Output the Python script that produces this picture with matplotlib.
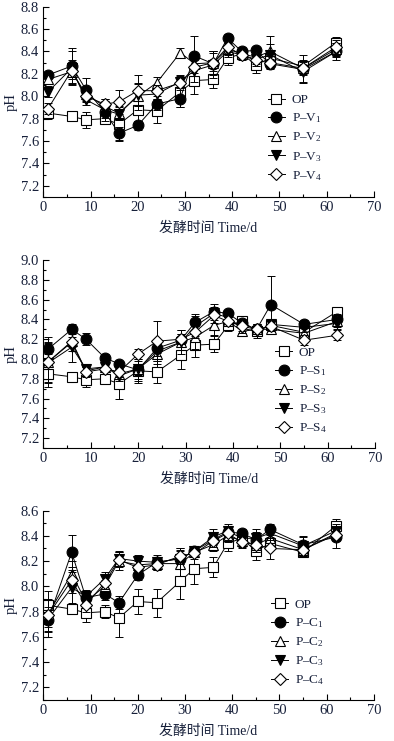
import numpy as np
import matplotlib
matplotlib.use("Agg")
import matplotlib.pyplot as plt
from matplotlib.ticker import MultipleLocator

plt.rcParams['font.family'] = ['Liberation Serif', 'Noto Sans CJK SC']
plt.rcParams['mathtext.fontset'] = 'custom'
plt.rcParams['mathtext.rm'] = 'Liberation Serif'
plt.rcParams['mathtext.it'] = 'Liberation Serif:italic'

days = [1, 6, 9, 13, 16, 20, 24, 29, 32, 36, 39, 42, 45, 48, 55, 62]

op = [7.85, 7.82, 7.79, 7.80, 7.75, 7.88, 7.87, 8.04, 8.14, 8.15, 8.34, 8.38, 8.28, 8.34, 8.27, 8.48]
op_err = [0.05, 0.03, 0.07, 0.05, 0.15, 0.10, 0.11, 0.14, 0.12, 0.08, 0.06, 0.04, 0.07, 0.05, 0.04, 0.05]

# panel 1
v1 = [8.19, 8.27, 8.06, 7.86, 7.67, 7.74, 7.93, 7.98, 8.36, 8.29, 8.52, 8.40, 8.41, 8.29, 8.24, 8.40]
v2 = [8.15, 8.22, 8.02, 7.91, 7.85, 8.00, 8.12, 8.39, 8.29, 8.30, 8.42, 8.38, 8.35, 8.40, 8.25, 8.42]
v3 = [8.04, 8.25, 7.97, 7.88, 7.84, 8.01, 8.02, 8.13, 8.23, 8.28, 8.40, 8.37, 8.33, 8.37, 8.22, 8.40]
v4 = [7.89, 8.23, 8.00, 7.93, 7.95, 8.05, 8.05, 8.12, 8.26, 8.30, 8.44, 8.37, 8.32, 8.30, 8.25, 8.44]
v1_err = [0.03, 0.16, 0.10, 0.05, 0.06, 0.04, 0.05, 0.08, 0.18, 0.10, 0.04, 0.04, 0.03, 0.04, 0.04, 0.08]
v2_err = [0.04, 0.10, 0.05, 0.05, 0.06, 0.12, 0.05, 0.04, 0.08, 0.10, 0.05, 0.04, 0.04, 0.14, 0.12, 0.06]
v3_err = [0.05, 0.15, 0.05, 0.10, 0.05, 0.10, 0.05, 0.06, 0.10, 0.12, 0.05, 0.04, 0.04, 0.10, 0.10, 0.05]
v4_err = [0.05, 0.08, 0.05, 0.05, 0.11, 0.14, 0.05, 0.05, 0.08, 0.10, 0.06, 0.05, 0.05, 0.06, 0.06, 0.06]

# panel 2
s1 = [8.10, 8.30, 8.20, 8.01, 7.95, 7.89, 8.11, 8.19, 8.37, 8.48, 8.46, 8.36, 8.30, 8.55, 8.35, 8.40]
s2 = [7.97, 8.18, 7.88, 7.92, 7.85, 7.90, 8.05, 8.17, 8.22, 8.34, 8.38, 8.28, 8.30, 8.30, 8.26, 8.38]
s3 = [7.96, 8.12, 7.90, 7.92, 7.83, 7.90, 8.08, 8.17, 8.33, 8.46, 8.42, 8.31, 8.28, 8.35, 8.32, 8.36]
s4 = [7.97, 8.17, 7.87, 7.90, 7.87, 8.05, 8.18, 8.20, 8.27, 8.44, 8.38, 8.33, 8.30, 8.33, 8.19, 8.24]
s1_err = [0.05, 0.05, 0.06, 0.04, 0.03, 0.05, 0.05, 0.10, 0.08, 0.05, 0.04, 0.04, 0.03, 0.29, 0.04, 0.05]
s2_err = [0.20, 0.10, 0.04, 0.04, 0.05, 0.10, 0.10, 0.12, 0.12, 0.10, 0.04, 0.05, 0.05, 0.05, 0.05, 0.06]
s3_err = [0.20, 0.15, 0.05, 0.05, 0.05, 0.14, 0.05, 0.08, 0.10, 0.10, 0.05, 0.05, 0.05, 0.05, 0.05, 0.06]
s4_err = [0.25, 0.05, 0.05, 0.05, 0.05, 0.05, 0.20, 0.05, 0.06, 0.05, 0.05, 0.05, 0.05, 0.05, 0.05, 0.05]

# panel 3
c1 = [7.73, 8.27, 7.91, 7.94, 7.87, 8.09, 8.19, 8.22, 8.28, 8.37, 8.43, 8.42, 8.37, 8.45, 8.33, 8.39]
c2 = [7.78, 8.10, 7.88, 8.00, 8.20, 8.17, 8.18, 8.18, 8.27, 8.33, 8.40, 8.36, 8.33, 8.38, 8.29, 8.42]
c3 = [7.74, 7.99, 7.92, 8.06, 8.22, 8.20, 8.19, 8.22, 8.28, 8.39, 8.44, 8.38, 8.38, 8.42, 8.32, 8.44]
c4 = [7.77, 8.05, 7.85, 8.03, 8.21, 8.15, 8.17, 8.24, 8.26, 8.36, 8.42, 8.35, 8.33, 8.30, 8.29, 8.41]
c1_err = [0.05, 0.14, 0.05, 0.05, 0.05, 0.04, 0.04, 0.07, 0.04, 0.06, 0.04, 0.03, 0.06, 0.04, 0.06, 0.09]
c2_err = [0.18, 0.10, 0.04, 0.05, 0.07, 0.05, 0.04, 0.10, 0.04, 0.05, 0.05, 0.05, 0.06, 0.05, 0.05, 0.05]
c3_err = [0.10, 0.12, 0.05, 0.05, 0.06, 0.05, 0.06, 0.08, 0.04, 0.06, 0.05, 0.04, 0.07, 0.05, 0.08, 0.05]
c4_err = [0.12, 0.10, 0.05, 0.05, 0.06, 0.05, 0.04, 0.06, 0.04, 0.05, 0.05, 0.05, 0.06, 0.08, 0.05, 0.05]

markers = ['s', 'o', '^', 'v', 'D']
fills = ['white', 'black', 'white', 'black', 'white']
msizes = [7, 7.8, 7, 7.8, 6]
tick_color = '#17203a'

panels = [
    dict(series=[op, v1, v2, v3, v4], errs=[op_err, v1_err, v2_err, v3_err, v4_err],
         letter='V', ylim=(7.1, 8.8), yticks=np.arange(7.2, 8.81, 0.2),
         rect=[0.110, 0.734, 0.839, 0.257], leg=(0.680, 0.873)),
    dict(series=[op, s1, s2, s3, s4], errs=[op_err, s1_err, s2_err, s3_err, s4_err],
         letter='S', ylim=(7.1, 9.0), yticks=np.arange(7.2, 9.01, 0.2),
         rect=[0.110, 0.3954, 0.842, 0.2536], leg=(0.698, 0.532)),
    dict(series=[op, c1, c2, c3, c4], errs=[op_err, c1_err, c2_err, c3_err, c4_err],
         letter='C', ylim=(7.1, 8.6), yticks=np.arange(7.2, 8.61, 0.2),
         rect=[0.110, 0.0553, 0.839, 0.2557], leg=(0.688, 0.192)),
]

fig = plt.figure(figsize=(3.94, 7.41), dpi=100)

for p in panels:
    ax = fig.add_axes(p['rect'])
    labels = ['OP'] + ['P–%s$_{%d}$' % (p['letter'], i) for i in range(1, 5)]
    handles = []
    for k, (y, e) in enumerate(zip(p['series'], p['errs'])):
        ax.errorbar(days, y, yerr=e, fmt='none', ecolor='black', elinewidth=0.7,
                    capsize=3.2, capthick=0.7, zorder=2 + k)
        h, = ax.plot(days, y, color='black', lw=0.7, marker=markers[k],
                     markersize=msizes[k], markerfacecolor=fills[k],
                     markeredgecolor='black', markeredgewidth=0.8, zorder=2 + k)
        handles.append(h)

    ax.set_xlim(0, 70)
    ax.set_ylim(*p['ylim'])
    ax.set_xticks(np.arange(0, 71, 10))
    ax.set_yticks(p['yticks'])
    ax.set_yticklabels(['%.1f' % t for t in p['yticks']])
    ax.xaxis.set_minor_locator(MultipleLocator(5))
    ax.yaxis.set_minor_locator(MultipleLocator(0.1))
    ax.tick_params(which='both', direction='in', labelsize=10.5, colors='black',
                   labelcolor=tick_color, width=0.8)
    ax.tick_params(which='major', length=4, pad=3)
    ax.tick_params(which='minor', length=2.5)
    for side in ['top', 'right']:
        ax.spines[side].set_visible(False)
    for side in ['left', 'bottom']:
        ax.spines[side].set_linewidth(0.8)

    ax.set_xlabel('发酵时间 Time/d', fontsize=10, color=tick_color, labelpad=5)
    ax.set_ylabel('pH', fontsize=10.5, color=tick_color)
    ax.yaxis.set_label_coords(-0.078, 0.5)

    ax.legend(handles, labels, loc='upper left', bbox_to_anchor=p['leg'],
              bbox_transform=fig.transFigure, frameon=False, fontsize=9.5,
              handlelength=1.3, handletextpad=0.5, labelspacing=0.4,
              borderpad=0, borderaxespad=0, labelcolor=tick_color)

fig.savefig('out.png', dpi=100)
